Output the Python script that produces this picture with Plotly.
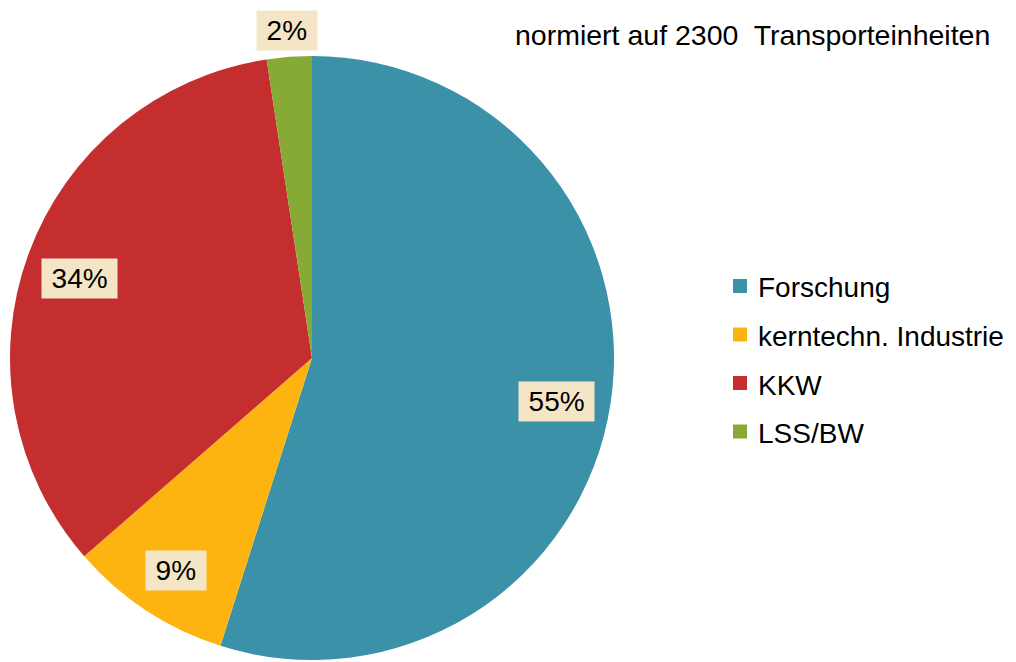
import math
import plotly.graph_objects as go

categories = ["Forschung", "kerntechn. Industrie", "KKW", "LSS/BW"]
shares = [54.9, 8.7, 34.0, 2.4]
colors = ["#3A91A8", "#FDB410", "#C42E2F", "#86AA35"]
title_text = "normiert auf 2300\u00a0 Transporteinheiten"

# page has an 8px body margin; work in reference pixel coordinates
OFF = 8
W, H = 1016 - OFF, 662 - OFF
cx_px, cy_px, R = 312, 358, 302
FONT = "Liberation Sans, Arial"


def px(x):
    return (x - OFF) / W


def py(y):
    return 1 - (y - OFF) / H


fig = go.Figure(go.Pie(
    labels=categories, values=shares, sort=False, direction="clockwise",
    rotation=0, marker=dict(colors=colors, line=dict(width=0)),
    textinfo="none", hoverinfo="label+percent", showlegend=False,
    domain=dict(x=[px(cx_px - R), px(cx_px + R)],
                y=[py(cy_px + R), py(cy_px - R)]),
))

annotations = []
total = sum(shares)
cum = 0.0
for cat, v in zip(categories, shares):
    frac = v / total
    mid = (cum + frac / 2) * 2 * math.pi
    cum += frac
    r = 0.82 * R if frac >= 0.05 else 1.08 * R
    x = cx_px + r * math.sin(mid)
    y = cy_px - r * math.cos(mid) + (6 if frac >= 0.05 else -2)
    annotations.append(dict(
        x=px(x), y=py(y), xref="paper", yref="paper", showarrow=False,
        text="\u2009" + f"{round(frac * 100)}%" + "\u2009",
        font=dict(family=FONT, size=28, color="#000000"),
        bgcolor="#F4E5C6", borderpad=4, xanchor="center", yanchor="middle",
    ))

annotations.append(dict(
    x=px(752), y=py(35), xref="paper", yref="paper", showarrow=False,
    text=title_text, xanchor="center", yanchor="middle",
    font=dict(family=FONT, size=28.5, color="#000000"),
))

shapes = []
legend_top, legend_step, sq = 286, 48.5, 14
for i, (cat, col) in enumerate(zip(categories, colors)):
    yc = legend_top + i * legend_step
    shapes.append(dict(type="rect", xref="paper", yref="paper",
                       x0=px(733), x1=px(733 + sq),
                       y0=py(yc + sq / 2), y1=py(yc - sq / 2),
                       fillcolor=col, line=dict(width=0)))
    annotations.append(dict(
        x=px(756), y=py(yc + 2), xref="paper", yref="paper", showarrow=False,
        text=cat, xanchor="left", yanchor="middle",
        font=dict(family=FONT, size=28, color="#000000"),
    ))

fig.update_layout(
    width=W, height=H, margin=dict(l=0, r=0, t=0, b=0),
    paper_bgcolor="white", plot_bgcolor="white",
    annotations=annotations, shapes=shapes,
)

fig.write_html("out.html")
